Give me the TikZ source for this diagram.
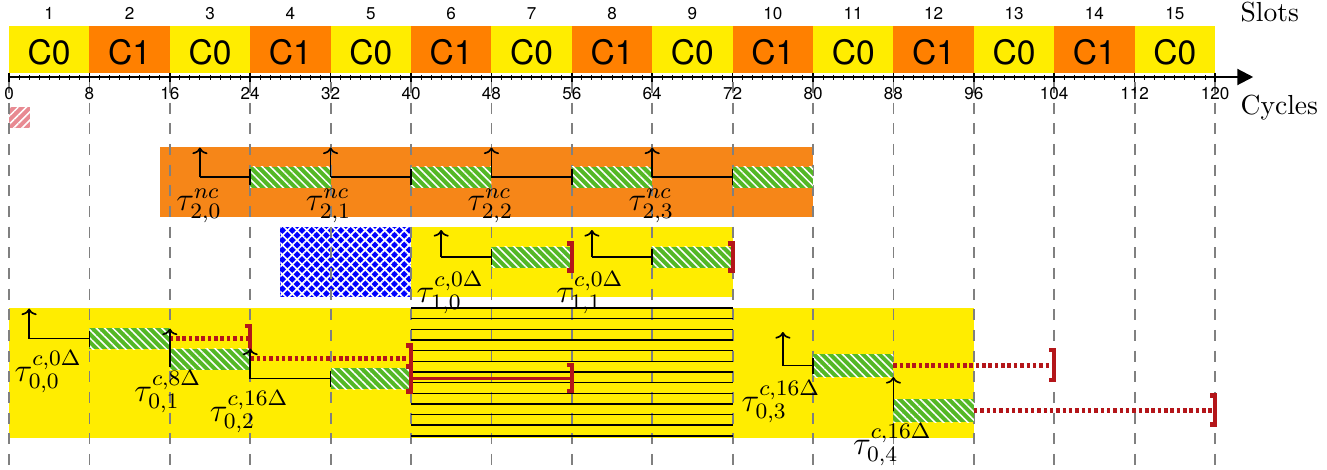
\documentclass[tikz,border=0pt]{standalone}
\usepackage{fontspec}
\newfontfamily\hvfont{TeX Gyre Heros}
\usetikzlibrary{patterns.meta,arrows.meta}
\definecolor{slotY}{RGB}{255,237,0}
\definecolor{slotO}{RGB}{255,128,0}
\definecolor{boxO}{RGB}{246,134,24}
\definecolor{barG}{RGB}{84,184,38}
\definecolor{dRed}{RGB}{180,22,26}
\definecolor{pinkH}{RGB}{232,138,146}
\definecolor{blueX}{RGB}{0,0,255}
\definecolor{dashG}{RGB}{128,128,128}
\tikzset{
 blk/.style={black, line width=0.6pt},
 stripe/.style={black, line width=0.5pt},
 relarr/.style={blk, -{To[length=2.4pt,width=5.5pt]}},
 brk/.style={dRed, line width=1.5pt},
 ddot/.style={dRed, line width=1.6pt, dash pattern=on 1.3pt off 1pt},
 rsolid/.style={dRed, line width=1.4pt},
 gdash/.style={dashG, line width=0.65pt, dash pattern=on 4pt off 3.5pt},
 numlbl/.style={font=\hvfont\fontsize{6.2}{7}\selectfont, inner sep=0pt, anchor=base},
 slotlbl/.style={font=\hvfont\fontsize{12.2}{14}\selectfont, inner sep=0pt, anchor=base},
 taulbl/.style={font=\large, inner sep=0pt, anchor=north},
 axlbl/.style={inner sep=0pt, anchor=base west},
}
\newcommand{\tkBar}[4]{%
 \fill[barG] (#1,{#3-#4}) rectangle (#2,{#3+#4});
 \fill[pattern={Lines[angle=-45,distance=2.1pt,line width=0.55pt]}, pattern color=white] (#1,{#3-#4}) rectangle (#2,{#3+#4});}
\newcommand{\tkBrk}[3]{\draw[brk] ({#1-0.5},{#2-#3}) -- (#1,{#2-#3}) -- (#1,{#2+#3}) -- ({#1-0.5},{#2+#3});}
\newcommand{\tkTick}[2]{\draw[blk] (#1,{#2-8}) -- (#1,{#2+8});}
\begin{document}
\begin{tikzpicture}[x=3.648pt,y=-0.363pt]
\useasboundingbox (-0.8955,0) rectangle (131.14,469);
% slots
\foreach \k in {0,2,...,14} {\fill[slotY] ({8*\k},26) rectangle ({8*\k+8},73);}
\foreach \k in {1,3,...,13} {\fill[slotO] ({8*\k},26) rectangle ({8*\k+8},73);}
\foreach \k in {0,2,...,14} {\node[slotlbl] (sc\k) at ({8*\k+4},65) {C0};}
\foreach \k in {1,3,...,13} {\node[slotlbl] (sc\k) at ({8*\k+4},65) {C1};}
\foreach \k [count=\n] in {0,...,14} {\node[numlbl] (sn\k) at ({8*\k+4},19.3) {\n};}
% backgrounds
\fill[boxO] (15,147) rectangle (80,217);
\fill[blueX] (27,227) rectangle (40,297);
\fill[pattern={Lines[angle=45,distance=2.5pt,line width=0.6pt]},pattern color=white] (27,227) rectangle (40,297);
\fill[pattern={Lines[angle=-45,distance=2.5pt,line width=0.6pt]},pattern color=white] (27,227) rectangle (40,297);
\fill[slotY] (40,227) rectangle (72,297);
\fill[slotY] (0,308) rectangle (96,438);
\fill[pinkH] (0,106.7) rectangle (2.09,127.7);
\fill[pattern={Lines[angle=45,distance=2.1pt,line width=0.55pt]},pattern color=white] (0,106.7) rectangle (2.09,127.7);
% dashed grid
\foreach \k in {0,...,15} {\draw[gdash] ({8*\k},82) -- ({8*\k},469);}
% striped block
\foreach \i in {0,...,12} {\draw[stripe] (40,{308+10.65*\i}) -- (72,{308+10.65*\i});}
% tau2 row
\tkBar{24}{32}{177}{10.5} \tkBar{40}{48}{177}{10.5} \tkBar{56}{64}{177}{10.5} \tkBar{72}{80}{177}{10.5}
\draw[blk] (19,177) -- (24,177); \tkTick{24}{177}
\draw[blk] (32,177) -- (40,177); \tkTick{40}{177}
\draw[blk] (48,177) -- (56,177); \tkTick{56}{177}
\draw[blk] (64,177) -- (72,177); \tkTick{72}{177}
\draw[relarr] (19,177) -- (19,147.5);
\draw[relarr] (32,177) -- (32,147.5);
\draw[relarr] (48,177) -- (48,147.5);
\draw[relarr] (64,177) -- (64,147.5);
% tau1 row
\tkBar{48}{56}{257}{10.5} \tkBar{64}{72}{257}{10.5}
\draw[blk] (43,257) -- (48,257); \tkTick{48}{257}
\draw[blk] (58,257) -- (64,257); \tkTick{64}{257}
\draw[relarr] (43,257) -- (43,230);
\draw[relarr] (58,257) -- (58,230);
\tkBrk{56}{257}{13.5} \tkBrk{72}{257}{13.5}
% tau0 rows
\tkBar{8}{16}{338.5}{10.5}
\draw[blk] (2,338.5) -- (8,338.5); \tkTick{8}{338.5}
\draw[relarr] (2,338.5) -- (2,308.5);
\draw[ddot] (16,338.5) -- (24,338.5); \tkBrk{24}{338.5}{12.5}
\tkBar{16}{24}{359}{10.5}
\tkTick{16}{359}
\draw[relarr] (16,359) -- (16,328.5);
\draw[ddot] (24,358.5) -- (40,358.5); \tkBrk{40}{358.5}{13}
\tkBar{32}{40}{378.5}{10.5}
\draw[blk] (24,378.5) -- (32,378.5); \tkTick{32}{378.5}
\draw[relarr] (24,378.5) -- (24,348.5);
\tkBrk{40}{379}{12.5}
\draw[rsolid] (40,378.5) -- (56,378.5); \tkBrk{56}{378}{13}
\tkBar{80}{88}{365.5}{11.5}
\draw[blk] (77,365.5) -- (80,365.5); \tkTick{80}{365.5}
\draw[relarr] (77,365.5) -- (77,332);
\draw[ddot] (88,365.5) -- (104,365.5); \tkBrk{104}{365}{15}
\tkBar{88}{96}{410.5}{11.5}
\draw[relarr] (88,410.5) -- (88,377);
\draw[ddot] (96,410.5) -- (120,410.5); \tkBrk{120}{410}{14.5}
% labels
\node[taulbl] (l20) at (18.9,188) {$\tau^{nc}_{2,0}$};
\node[taulbl] (l21) at (31.8,188) {$\tau^{nc}_{2,1}$};
\node[taulbl] (l22) at (47.9,188) {$\tau^{nc}_{2,2}$};
\node[taulbl] (l23) at (63.9,188) {$\tau^{nc}_{2,3}$};
\node[taulbl] (l10) at (43.9,271) {$\tau^{c,0\Delta}_{1,0}$};
\node[taulbl] (l11) at (57.8,271) {$\tau^{c,0\Delta}_{1,1}$};
\node[taulbl] (l00) at (3.9,350) {$\tau^{c,0\Delta}_{0,0}$};
\node[taulbl] (l01) at (15.8,370) {$\tau^{c,8\Delta}_{0,1}$};
\node[taulbl] (l02) at (23.9,390) {$\tau^{c,16\Delta}_{0,2}$};
\node[taulbl] (l03) at (76.8,380) {$\tau^{c,16\Delta}_{0,3}$};
\node[taulbl] (l04) at (87.9,423) {$\tau^{c,16\Delta}_{0,4}$};
% axis
\coordinate (axs) at (0,77);
\coordinate (axe) at (123.8,77);
\draw[line width=0.8pt, -{Triangle[length=5.8pt,width=5.8pt]}] (axs) -- (axe);
\foreach \c in {0,...,120} {\draw[line width=0.35pt] (\c,75) -- (\c,80);}
\foreach \k in {0,...,15} {\draw[line width=0.6pt] ({8*\k},73) -- ({8*\k},82.5);}
\foreach \v in {0,8,...,120} {\node[numlbl] (t\v) at (\v,99.5) {\v};}
\node[axlbl] (slots) at (122.49,22) {Slots};
\node[axlbl] (cycles) at (122.49,114) {Cycles};
\end{tikzpicture}
\end{document}
